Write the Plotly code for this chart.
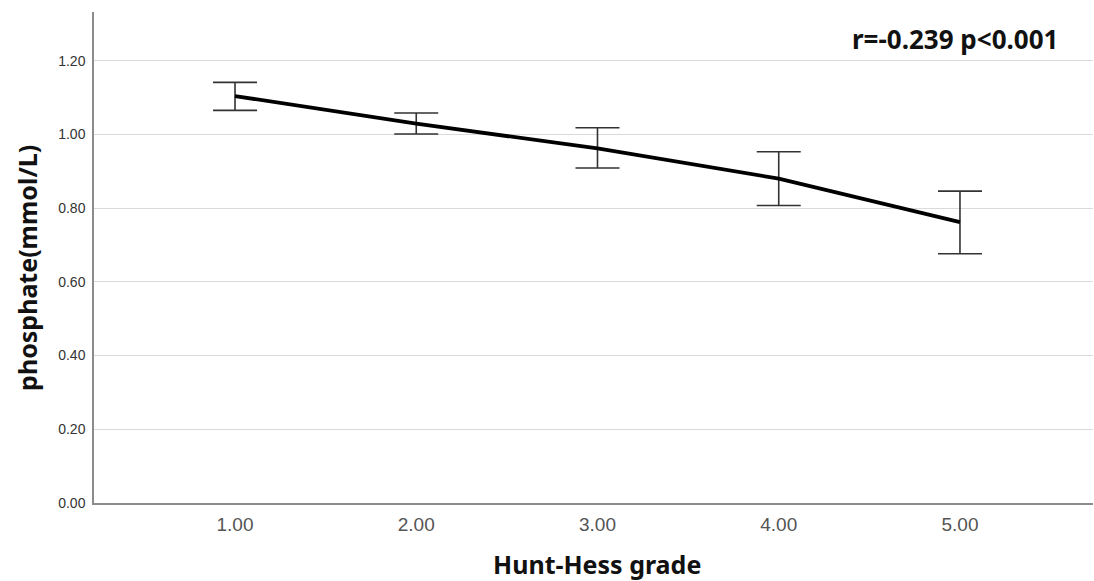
import plotly.graph_objects as go

grades = [1, 2, 3, 4, 5]
means = [1.104, 1.029, 0.962, 0.880, 0.762]
upper = [1.141, 1.058, 1.018, 0.953, 0.846]
lower = [1.065, 1.001, 0.909, 0.807, 0.676]
y_ticks = [0.0, 0.2, 0.4, 0.6, 0.8, 1.0, 1.2]

err_plus = [u - m for u, m in zip(upper, means)]
err_minus = [m - l for m, l in zip(means, lower)]

fig = go.Figure()
fig.add_trace(go.Scatter(
    x=grades, y=means, mode="lines",
    line=dict(color="black", width=3.8),
    error_y=dict(type="data", symmetric=False, array=err_plus, arrayminus=err_minus,
                 color="#333333", thickness=1.6, width=22),
    showlegend=False,
))

title_font = dict(family="Noto Sans", size=25, color="#111111")

fig.update_layout(
    width=1094, height=581, autosize=False,
    margin=dict(l=94, r=1, t=12, b=78),
    paper_bgcolor="white", plot_bgcolor="white",
    font=dict(family="Liberation Sans, Arial", color="#333333"),
    xaxis=dict(
        range=[0.222, 5.734], tickvals=grades,
        ticktext=[f"{g:.2f}" for g in grades],
        showgrid=False, zeroline=False, automargin=False,
        showline=True, linecolor="#8c8c8c", linewidth=1.5,
        ticks="", tickfont=dict(size=19, color="#555555"),
        ticklabelstandoff=3,
    ),
    yaxis=dict(
        range=[0, 1.332], tickvals=y_ticks,
        ticktext=[f"{v:.2f}" for v in y_ticks],
        showgrid=True, gridcolor="#dadada", gridwidth=1,
        zeroline=False, automargin=False,
        showline=True, linecolor="#8c8c8c", linewidth=1.5,
        ticks="", tickfont=dict(size=14, color="#333333"),
        ticklabelstandoff=4,
    ),
    annotations=[
        dict(x=0.967, y=0.945, xref="paper", yref="paper",
             xanchor="right", yanchor="middle", showarrow=False,
             text="<b>r=-0.239 p<0.001</b>",
             font=dict(family="Noto Sans", size=26, color="#111111")),
        dict(x=0.5035, y=-0.124, xref="paper", yref="paper",
             xanchor="center", yanchor="middle", showarrow=False,
             text="<b>Hunt-Hess grade</b>", font=title_font),
        dict(x=-0.067, y=0.479, xref="paper", yref="paper",
             xanchor="center", yanchor="middle", showarrow=False, textangle=-90,
             text="<b>phosphate(mmol/L)</b>", font=title_font),
    ],
)

post = (
    "document.body.style.margin='0';"
    "document.body.style.overflow='hidden';"
    "var gd=document.getElementById('{plot_id}');"
    "Plotly.relayout(gd,{width:1094,height:581});"
)

fig.write_html("out.html", config={"responsive": False, "displayModeBar": False}, post_script=post)
